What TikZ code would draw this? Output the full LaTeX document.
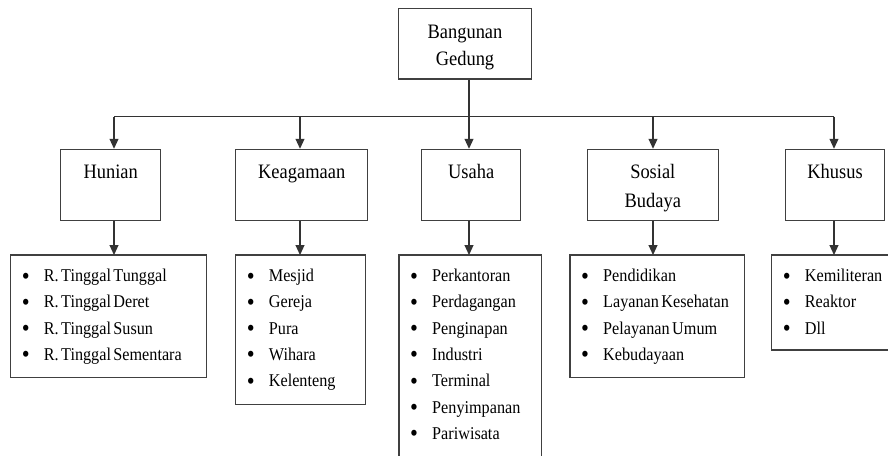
\documentclass[tikz,border=0pt]{standalone}
\usepackage{fontspec}
\setmainfont[FakeStretch=0.9,WordSpace=0.6]{Liberation Serif}
\usetikzlibrary{arrows.meta}
\tikzset{
  box/.style={draw=black!75, line width=1.1pt, fill=white, inner sep=0pt, minimum height=71.4pt},
  lbox/.style={draw=black!75, line width=1.1pt, fill=white},
  conn/.style={draw=black!80, line width=1.1pt},
  arr/.style={conn, -{Triangle[width=9pt,length=10pt]}},
  headtxt/.style={font=\fontsize{20.5}{24}\selectfont, inner sep=0pt, anchor=base},
  itemtxt/.style={font=\fontsize{18}{20}\selectfont, inner sep=0pt, anchor=base west},
  bul/.style={font=\fontsize{25}{28}\selectfont, inner sep=0pt, anchor=base},
}
\newcommand\mklist[3]{%
  \foreach \t [count=\i] in {#3} {
    \node[bul] (#1b\i) at ({#2+15},{284+26.3*\i-26.3}) {•};
    \node[itemtxt] (#1t\i) at ({#2+33},{281.5+26.3*\i-26.3}) {\t};
  }%
}
\begin{document}
\begin{tikzpicture}[x=1pt,y=-1pt]
\clip (0,0) rectangle (888,455);
\fill[white] (0,0) rectangle (888,455);

% top box
\node[box, minimum width=133.4pt, minimum height=70.7pt] (top) at (465,43.65) {};
\node[headtxt] (topt1) at (465,38.3) {Bangunan};
\node[headtxt] (topt2) at (465,65.7) {Gedung};

% level 2 boxes
\node[box, minimum width=100pt] (hun) at (110.7,185) {};
\node[box, minimum width=132pt] (kea) at (301.7,185) {};
\node[box, minimum width=99pt] (usa) at (471.2,185) {};
\node[box, minimum width=131pt] (sos) at (652.8,185) {};
\node[box, minimum width=98.6pt] (khu) at (835,185) {};
\node[headtxt] (hunt) at (110.7,178.3) {Hunian};
\node[headtxt] (keat) at (301.7,178.3) {Keagamaan};
\node[headtxt] (usat) at (471.2,178.3) {Usaha};
\node[headtxt] (sost1) at (652.8,178.3) {Sosial};
\node[headtxt] (sost2) at (652.8,207.3) {Budaya};
\node[headtxt] (khut) at (835,178.3) {Khusus};

% list boxes
\draw[lbox] (10.7,255) rectangle (206.7,377.7);
\draw[lbox] (235.7,255) rectangle (365.7,404.3);
\draw[lbox] (399,255) rectangle (541.7,470);
\draw[lbox] (570,255) rectangle (744.3,377.7);
\draw[lbox] (771.7,255) rectangle (892,350);
\coordinate (hunl) at (114,255);
\coordinate (keal) at (300,255);
\coordinate (usal) at (469,255);
\coordinate (sosl) at (653,255);
\coordinate (khul) at (834,255);

\mklist{h}{10.7}{R. Tinggal Tunggal, R. Tinggal Deret, R. Tinggal Susun, R. Tinggal Sementara}
\mklist{k}{235.7}{Mesjid, Gereja, Pura, Wihara, Kelenteng}
\mklist{u}{399}{Perkantoran, Perdagangan, Penginapan, Industri, Terminal, Penyimpanan, Pariwisata}
\mklist{s}{570}{Pendidikan, Layanan Kesehatan, Pelayanan Umum, Kebudayaan}
\mklist{c}{771.7}{Kemiliteran, Reaktor, Dll}

% bus
\coordinate (busL) at (114,116.7);
\coordinate (busR) at (834,116.7);
\coordinate (busM) at (469,116.7);
\draw[conn] (busL) -- (busR);
\draw[arr] (469,0 |- top.south) -- (469,0 |- usa.north);
\draw[arr] (busL) -- (busL |- hun.north);
\draw[arr] (300,116.7) -- (300,0 |- kea.north);
\draw[arr] (653,116.7) -- (653,0 |- sos.north);
\draw[arr] (busR) -- (busR |- khu.north);

% level 2 to lists
\draw[arr] (hunl |- hun.south) -- (hunl);
\draw[arr] (keal |- kea.south) -- (keal);
\draw[arr] (usal |- usa.south) -- (usal);
\draw[arr] (sosl |- sos.south) -- (sosl);
\draw[arr] (khul |- khu.south) -- (khul);
\end{tikzpicture}
\end{document}
